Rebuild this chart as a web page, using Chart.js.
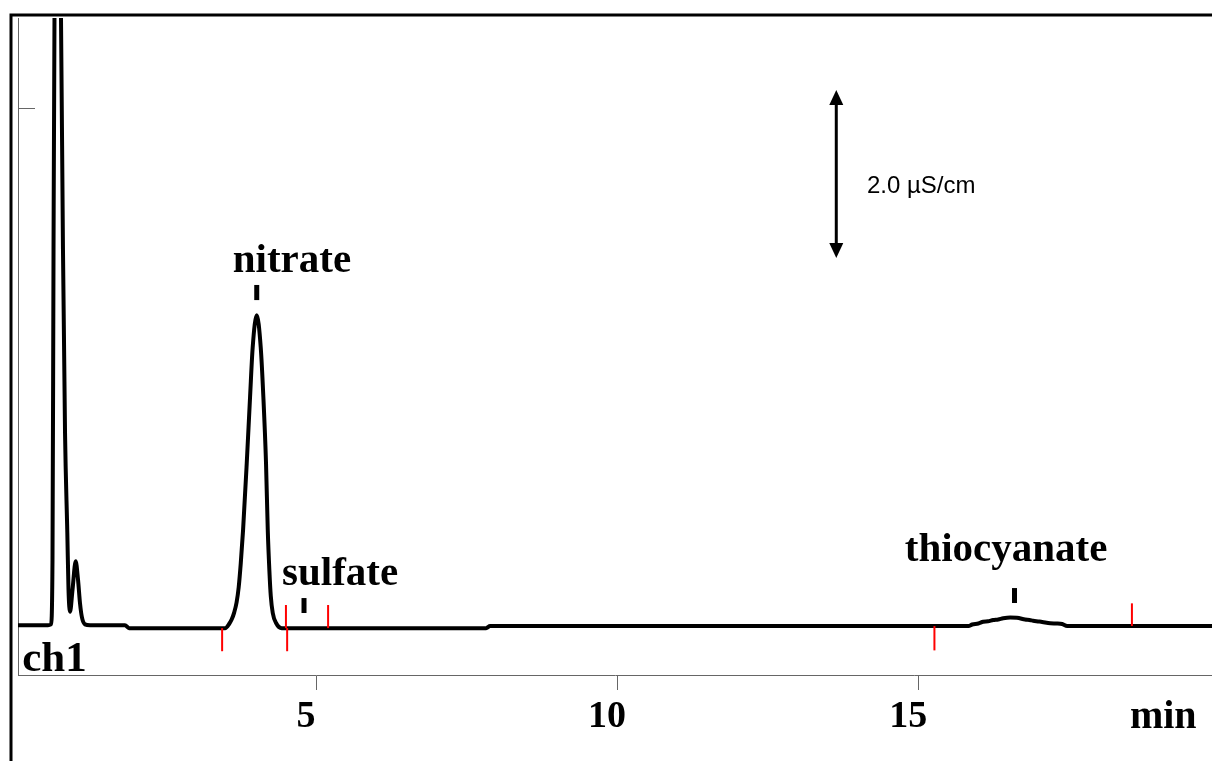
<!DOCTYPE html>
<html>
<head>
<meta charset="utf-8">
<script src="https://cdn.jsdelivr.net/npm/chart.js@4.4.0/dist/chart.umd.min.js"></script>
<style>
  html, body { margin: 0; padding: 0; background: #fff; overflow: hidden; }
  #wrap { width: 1212px; height: 761px; }
</style>
</head>
<body>
<div id="wrap"><canvas id="chrom"></canvas></div>
<script>
// retention time (min) and conductivity (uS/cm, baseline ~ 0)
var timeMin = [0.05, 0.548, 0.598, 0.623, 0.640, 0.656, 0.706, 0.764, 0.797, 0.831, 0.869, 0.889, 0.914, 0.955, 1.008, 1.047, 1.080, 1.113, 1.163, 1.246,
               1.827, 1.894, 3.489, 3.561, 3.600, 3.640, 3.680, 3.715, 3.750, 3.788, 3.849, 3.904, 3.948, 4.015, 4.081, 4.125, 4.169, 4.198, 4.225, 4.248, 4.281, 4.336, 4.430,
               7.824, 7.890, 15.836, 15.897, 16.000, 16.080, 16.160, 16.246, 16.330, 16.412, 16.528, 16.639, 16.777, 16.850, 16.910, 16.990, 17.060, 17.193, 17.300, 17.392, 17.475, 19.88];
var signal  = [0.01, 0.01, 0.02, 0.79, 4.48, 7.24, 9.6, 7.24, 4.48, 2.30, 1.11, 0.43, 0.17, 0.43, 0.77, 0.55, 0.27, 0.10, 0.02, 0.01,
               0.01, -0.025, -0.025, 0.03, 0.08, 0.16, 0.28, 0.46, 0.75, 1.143, 1.940, 2.726, 3.321, 3.70, 3.321, 2.726, 1.940, 1.143, 0.66, 0.36, 0.155, 0.036, -0.025,
               -0.025, 0.0, 0.0, 0.018, 0.030, 0.051, 0.056, 0.071, 0.078, 0.092, 0.101, 0.099, 0.077, 0.072, 0.063, 0.055, 0.048, 0.032, 0.030, 0.024, 0.0, 0.0];

var xTicks = [5, 10, 15];
var yTicks = [6.17];

var peakNames  = ["nitrate", "sulfate", "thiocyanate"];
var peakTimes  = [4.015, 4.80, 16.60];
var peakMarkLo = [3.88, 0.155, 0.274];
var peakMarkHi = [4.06, 0.333, 0.452];
var labelTimes  = [4.60, 5.40, 16.46];
var labelLevels = [4.21, 0.49, 0.77];

// red integration marks
var markTimes  = [3.44, 4.50, 4.52, 5.20, 15.27, 18.55];
var markStarts = [-0.025, -0.025, -0.025, -0.025, 0.0, 0.0];
var markEnds   = [-0.30, 0.25, -0.30, 0.25, -0.29, 0.27];

// 2.0 uS/cm scale bar
var barTime = 13.64, barFrom = 4.38, barTo = 6.38;
var barText = "2.0 µS/cm", barTextTime = 14.15, barTextLevel = 5.23;

var serif = "'Liberation Serif', 'Times New Roman', serif";

var points = timeMin.map(function(t, i) { return { x: t, y: signal[i] }; });

var annotate = {
  id: "annotate",
  afterDatasetsDraw: function(chart) {
    var c = chart.ctx, xs = chart.scales.x, ys = chart.scales.y;
    c.save();

    // inner y tick
    c.strokeStyle = "#666"; c.lineWidth = 1;
    yTicks.forEach(function(v) {
      var py = Math.round(ys.getPixelForValue(v)) + 0.5;
      c.beginPath(); c.moveTo(chart.chartArea.left, py); c.lineTo(chart.chartArea.left + 17, py); c.stroke();
    });

    // red marks
    c.strokeStyle = "#ff0000"; c.lineWidth = 2;
    markTimes.forEach(function(t, i) {
      var px = xs.getPixelForValue(t);
      c.beginPath(); c.moveTo(px, ys.getPixelForValue(markStarts[i])); c.lineTo(px, ys.getPixelForValue(markEnds[i])); c.stroke();
    });

    // peak markers + names
    c.fillStyle = "#000";
    c.font = "bold 41px " + serif;
    c.textAlign = "center"; c.textBaseline = "alphabetic";
    peakNames.forEach(function(name, i) {
      var px = xs.getPixelForValue(peakTimes[i]);
      var top = ys.getPixelForValue(peakMarkHi[i]), bot = ys.getPixelForValue(peakMarkLo[i]);
      c.fillRect(px - 2.5, top, 5, bot - top);
      c.fillText(name, xs.getPixelForValue(labelTimes[i]), ys.getPixelForValue(labelLevels[i]));
    });

    // channel label
    c.font = "bold 43px " + serif;
    c.textAlign = "left";
    c.fillText("ch1", xs.getPixelForValue(0.12), ys.getPixelForValue(-0.54));

    // axis unit
    c.font = "bold 40px " + serif;
    c.textAlign = "center";
    c.fillText("min", xs.getPixelForValue(19.07), xs.top + 53);

    // scale bar
    var bx = xs.getPixelForValue(barTime), b1 = ys.getPixelForValue(barTo), b2 = ys.getPixelForValue(barFrom);
    c.strokeStyle = "#000"; c.lineWidth = 3;
    c.beginPath(); c.moveTo(bx, b1 + 8); c.lineTo(bx, b2 - 8); c.stroke();
    c.beginPath(); c.moveTo(bx, b1); c.lineTo(bx - 7, b1 + 15); c.lineTo(bx + 7, b1 + 15); c.closePath(); c.fill();
    c.beginPath(); c.moveTo(bx, b2); c.lineTo(bx - 7, b2 - 15); c.lineTo(bx + 7, b2 - 15); c.closePath(); c.fill();
    c.font = "24px 'Liberation Sans', Arial, sans-serif";
    c.textAlign = "left"; c.textBaseline = "middle";
    c.fillText(barText, xs.getPixelForValue(barTextTime), ys.getPixelForValue(barTextLevel));

    c.restore();
  },
  afterDraw: function(chart) {
    var c = chart.ctx;
    c.save();
    c.strokeStyle = "#000"; c.lineWidth = 3;
    c.beginPath(); c.moveTo(11, chart.height); c.lineTo(11, 15); c.lineTo(chart.width, 15); c.stroke();
    c.restore();
  }
};

new Chart(document.getElementById("chrom"), {
  type: "line",
  data: {
    datasets: [{
      data: points,
      borderColor: "#000",
      borderWidth: 4,
      pointRadius: 0,
      fill: false,
      cubicInterpolationMode: "monotone",
      clip: 0
    }]
  },
  options: {
    responsive: true,
    maintainAspectRatio: false,
    animation: false,
    layout: { padding: { top: 18, right: 0, left: 0, bottom: 0 } },
    plugins: { legend: { display: false }, tooltip: { enabled: false } },
    scales: {
      x: {
        type: "linear",
        min: 0.05,
        max: 19.88,
        afterBuildTicks: function(s) { s.ticks = xTicks.map(function(v) { return { value: v }; }); },
        afterFit: function(s) { s.height = 86; },
        grid: { drawOnChartArea: false, drawTicks: true, tickLength: 15, color: "#666", lineWidth: 1 },
        border: { display: true, color: "#666", width: 1 },
        ticks: { color: "#000", padding: 4, labelOffset: -10, maxRotation: 0, font: { family: serif, size: 38, weight: "bold" } }
      },
      y: {
        type: "linear",
        min: -0.583,
        max: 7.238,
        afterFit: function(s) { s.width = 18; },
        grid: { display: false },
        border: { display: true, color: "#666", width: 1 },
        ticks: { display: false }
      }
    }
  },
  plugins: [annotate]
});
</script>
</body>
</html>
